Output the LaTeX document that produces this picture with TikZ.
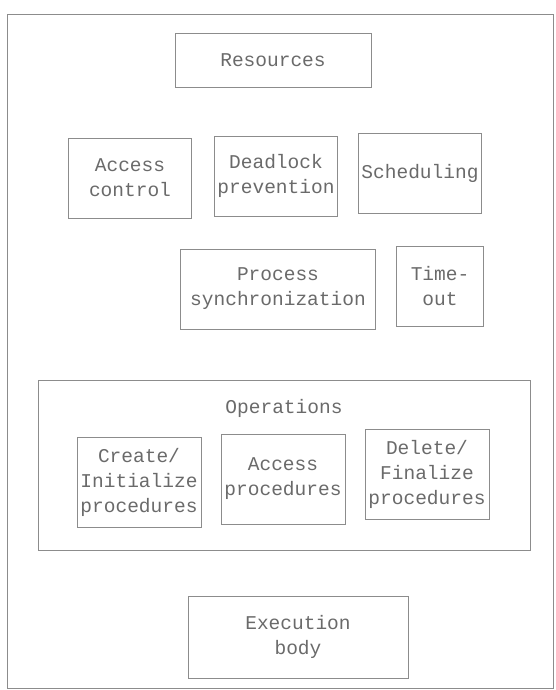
\documentclass[tikz,border=0pt]{standalone}
\usepackage{fontspec}
\setmonofont{Liberation Mono}
\usepackage{xcolor}
\usetikzlibrary{positioning}
\definecolor{scanGray}{HTML}{8C8C8C}
\definecolor{inkGray}{HTML}{6A6A6A}

\begin{document}
\begin{tikzpicture}[
  x=1pt, y=-1pt,
  every node/.style={font=\ttfamily\fontsize{19.5}{25}\selectfont, text=inkGray},
  box/.style={
    rectangle, draw=scanGray, line width=0.6pt,
    align=center, inner sep=1pt
  },
  small/.style={box, minimum width=123pt, minimum height=80pt},
  proc/.style={box, minimum width=124pt, minimum height=90pt},
]
\useasboundingbox (0,0) rectangle (556,690);

% Outer frame
\node[box, minimum width=546pt, minimum height=674pt] (module) at (280,351) {};

% Top level
\node[box, minimum width=196pt, minimum height=54pt] (res) at (273,60) {Resources};

\node[small] (acc) at (130,178) {Access\\control};
\node[small] (dead) at (276,176) {Deadlock\\prevention};
\node[small] (sched) at (420,173) {Scheduling};

\node[box, minimum width=195pt, minimum height=80pt] (sync) at (278,289) {Process\\synchronization};
\node[box, minimum width=87pt, minimum height=80pt] (tout) at (440,286) {Time-\\out};

% Operations
\node[box, minimum width=492pt, minimum height=170pt] (ops) at (284,465) {};
\node[below=16pt of ops.north] (opslbl) {Operations};

\node[proc] (create) at (139,482) {Create/\\Initialize\\procedures};
\node[proc] (accp) at (283,479) {Access\\procedures};
\node[proc] (del) at (427,474) {Delete/\\Finalize\\procedures};

% Body
\node[box, minimum width=220pt, minimum height=82pt] (exec) at (298,637) {Execution\\body};

\end{tikzpicture}
\end{document}
